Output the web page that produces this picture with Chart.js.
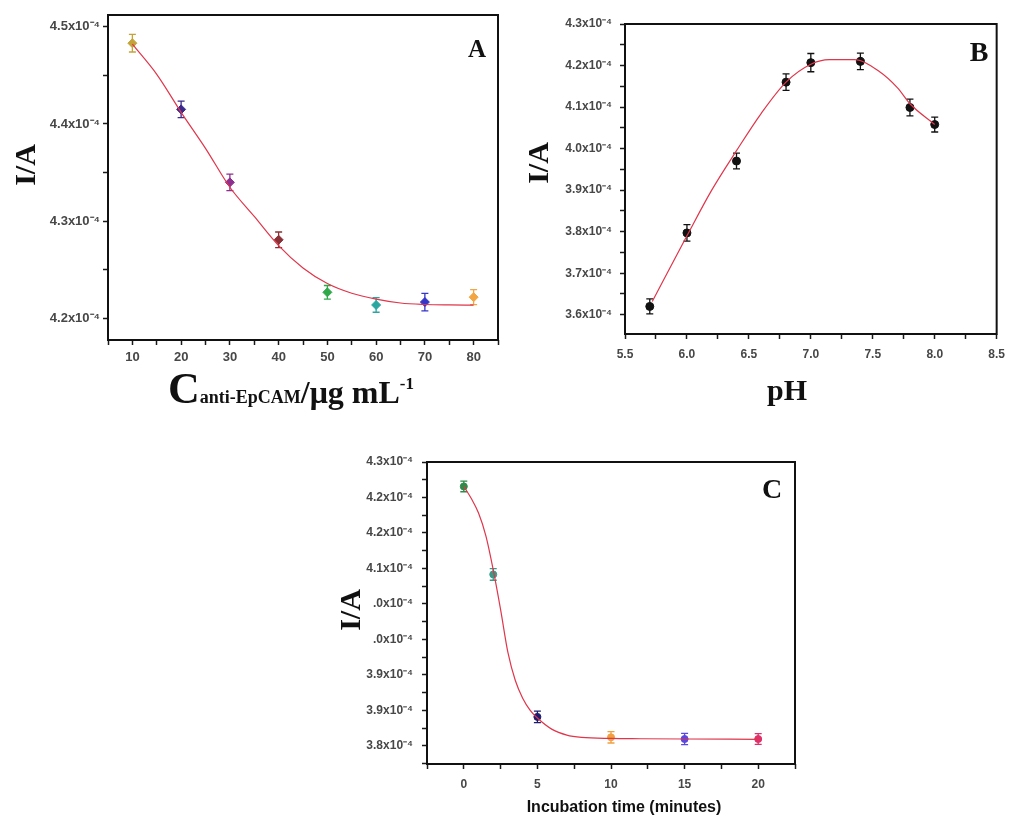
<!DOCTYPE html>
<html>
<head>
<meta charset="utf-8">
<script src="https://cdn.jsdelivr.net/npm/chart.js@4.4.1/dist/chart.umd.min.js"></script>
<style>
  html, body { margin: 0; padding: 0; background: #fff; }
  body { width: 1013px; height: 816px; position: relative; overflow: hidden; }
  canvas { position: absolute; }
</style>
</head>
<body>
<canvas id="chartA" width="510" height="420" style="left:0;top:0"></canvas>
<canvas id="chartB" width="503" height="420" style="left:510px;top:0"></canvas>
<canvas id="chartC" width="480" height="376" style="left:330px;top:440px"></canvas>
<script>
// all currents are in units of 1e-4 A

// A: current vs anti-EpCAM concentration
const concA = [10, 20, 30, 40, 50, 60, 70, 80];
const currentA = [4.483, 4.415, 4.340, 4.281, 4.227, 4.214, 4.217, 4.222];
const errA = [0.009, 0.0085, 0.0085, 0.008, 0.007, 0.0075, 0.009, 0.0077];
const colorsA = ['#c4a43a', '#3b2a8c', '#8e2e8e', '#8a2f35', '#2fa84a', '#2aa6a0', '#3535c8', '#f2a541'];
const fitConcA = [10, 15, 20, 25, 30, 35, 40, 45, 50, 55, 60, 65, 70, 75, 80];
const fitCurrentA = [4.482, 4.451, 4.412, 4.375, 4.335, 4.305, 4.275, 4.252, 4.236, 4.226, 4.220, 4.216, 4.2145, 4.214, 4.2138];
const xTicksA = [10, 20, 30, 40, 50, 60, 70, 80];
const xLabelsA = ['10', '20', '30', '40', '50', '60', '70', '80'];
const yTicksA = [4.2, 4.3, 4.4, 4.5];
const yLabelsA = ['4.2x10⁻⁴', '4.3x10⁻⁴', '4.4x10⁻⁴', '4.5x10⁻⁴'];

// B: current vs pH
const phB = [5.7, 6.0, 6.4, 6.8, 7.0, 7.4, 7.8, 8.0];
const currentB = [3.620, 3.797, 3.970, 4.160, 4.207, 4.210, 4.099, 4.058];
const errB = [0.018, 0.02, 0.019, 0.02, 0.022, 0.02, 0.02, 0.018];
const fitPhB = [5.72, 6.0, 6.2, 6.4, 6.6, 6.8, 7.0, 7.15, 7.35, 7.55, 7.7, 7.8, 8.0];
const fitCurrentB = [3.632, 3.79, 3.90, 3.995, 4.085, 4.16, 4.203, 4.214, 4.214, 4.186, 4.146, 4.108, 4.058];
const xTicksB = [5.5, 6.0, 6.5, 7.0, 7.5, 8.0, 8.5];
const xLabelsB = ['5.5', '6.0', '6.5', '7.0', '7.5', '8.0', '8.5'];
const yTicksB = [3.6, 3.7, 3.8, 3.9, 4.0, 4.1, 4.2, 4.3];
const yLabelsB = ['3.6x10⁻⁴', '3.7x10⁻⁴', '3.8x10⁻⁴', '3.9x10⁻⁴', '4.0x10⁻⁴', '4.1x10⁻⁴', '4.2x10⁻⁴', '4.3x10⁻⁴'];

// C: current vs incubation time
const timeC = [0, 2, 5, 10, 15, 20];
const currentC = [4.257, 4.102, 3.851, 3.815, 3.812, 3.812];
const errC = [0.0094, 0.0103, 0.01, 0.01, 0.01, 0.0095];
const colorsC = ['#2e8b4a', '#3a9a88', '#1c1c6e', '#f0a040', '#5a48e0', '#e0306a'];
const fitTimeC = [0, 0.5, 1, 1.5, 2, 2.5, 3, 3.5, 4, 4.5, 5, 6, 7, 8, 10, 12, 15, 20];
const fitCurrentC = [4.257, 4.236, 4.210, 4.170, 4.110, 4.040, 3.964, 3.915, 3.884, 3.863, 3.849, 3.829, 3.819, 3.815, 3.813, 3.8125, 3.812, 3.8115];
const xTicksC = [0, 5, 10, 15, 20];
const xLabelsC = ['0', '5', '10', '15', '20'];
const yTicksC = [3.8, 3.8625, 3.925, 3.9875, 4.05, 4.1125, 4.175, 4.2375, 4.3];
const yLabelsC = ['3.8x10⁻⁴', '3.9x10⁻⁴', '3.9x10⁻⁴', '.0x10⁻⁴', '.0x10⁻⁴', '4.1x10⁻⁴', '4.2x10⁻⁴', '4.2x10⁻⁴', '4.3x10⁻⁴'];

const pts = (xs, ys) => xs.map((x, i) => ({ x: x, y: ys[i] }));

// majors plus a minor tick halfway between each pair (and past the ends if in range)
function withMinor(majors, min, max) {
  const half = (majors[1] - majors[0]) / 2;
  const out = [];
  [majors[0] - half].concat(majors.flatMap(v => [v, v + half])).forEach(v => {
    if (v >= min - 1e-9 && v <= max + 1e-9) out.push(v);
  });
  return out;
}

function labeler(values, labels) {
  return v => {
    const i = values.findIndex(t => Math.abs(t - v) < 1e-6);
    return i < 0 ? '' : labels[i];
  };
}

function axis(min, max, majors, labels, size, pad, horizontal, fontSize) {
  const list = withMinor(majors, min, max);
  return {
    type: 'linear',
    min: min,
    max: max,
    afterBuildTicks: s => { s.ticks = list.map(v => ({ value: v })); },
    afterFit: s => { if (horizontal) s.height = size; else s.width = size; },
    border: { display: false },
    grid: { drawOnChartArea: false, drawTicks: true, tickLength: 5, tickWidth: 1.5, tickColor: '#1a1a1a' },
    ticks: {
      autoSkip: false, maxRotation: 0, padding: pad, color: '#474747',
      font: { family: 'Liberation Sans', size: fontSize || 12, weight: 'bold' },
      callback: labeler(majors, labels)
    }
  };
}

const framePlugin = {
  id: 'frame',
  afterDraw(chart) {
    const { left, top, right, bottom } = chart.chartArea;
    const ctx = chart.ctx;
    ctx.save();
    ctx.strokeStyle = '#111';
    ctx.lineWidth = 2;
    ctx.strokeRect(left, top, right - left, bottom - top);
    ctx.restore();
  }
};

const errorBarPlugin = {
  id: 'errorBars',
  beforeDatasetsDraw(chart, args, o) {
    const ds = chart.data.datasets[o.dataset];
    const ctx = chart.ctx;
    ctx.save();
    ctx.lineWidth = 1.3;
    ds.data.forEach((p, i) => {
      const x = chart.scales.x.getPixelForValue(p.x);
      const hi = chart.scales.y.getPixelForValue(p.y + o.errors[i]);
      const lo = chart.scales.y.getPixelForValue(p.y - o.errors[i]);
      ctx.strokeStyle = Array.isArray(o.color) ? o.color[i] : o.color;
      ctx.beginPath();
      ctx.moveTo(x, hi); ctx.lineTo(x, lo);
      ctx.moveTo(x - o.cap, hi); ctx.lineTo(x + o.cap, hi);
      ctx.moveTo(x - o.cap, lo); ctx.lineTo(x + o.cap, lo);
      ctx.stroke();
    });
    ctx.restore();
  }
};

// axis titles and panel letters, some with mixed font sizes
const textPlugin = {
  id: 'texts',
  afterDraw(chart, args, o) {
    const ctx = chart.ctx;
    o.items.forEach(item => {
      ctx.save();
      ctx.translate(item.x, item.y);
      if (item.rotate) ctx.rotate(item.rotate);
      ctx.fillStyle = item.color || '#111';
      ctx.textBaseline = item.baseline || 'alphabetic';
      ctx.textAlign = 'left';
      let total = 0;
      item.parts.forEach(p => { ctx.font = p.font; total += ctx.measureText(p.text).width; });
      let cx = -total / 2;
      item.parts.forEach(p => {
        ctx.font = p.font;
        ctx.fillText(p.text, cx, p.dy || 0);
        cx += ctx.measureText(p.text).width;
      });
      ctx.restore();
    });
  }
};

const serif = (px) => 'bold ' + px + 'px "Liberation Serif"';
const yTitle = (x, y) => ({ x: x, y: y, rotate: -Math.PI / 2, baseline: 'middle', parts: [{ text: 'I/A', font: serif(30) }] });

function makeChart(id, cfg) {
  return new Chart(document.getElementById(id), {
    type: 'scatter',
    data: {
      datasets: [
        {
          data: cfg.fit, showLine: true, borderColor: '#e0354a', borderWidth: 1.2,
          pointRadius: 0, cubicInterpolationMode: 'monotone'
        },
        {
          data: cfg.points, showLine: false, pointStyle: cfg.style, pointRadius: cfg.radius,
          backgroundColor: cfg.colors, borderColor: cfg.colors, borderWidth: 1
        }
      ]
    },
    options: {
      responsive: false,
      animation: false,
      devicePixelRatio: 1,
      layout: { padding: cfg.padding },
      plugins: {
        legend: { display: false },
        tooltip: { enabled: false },
        errorBars: { dataset: 1, errors: cfg.errors, color: cfg.colors, cap: 3.5 },
        texts: { items: cfg.texts }
      },
      scales: { x: cfg.x, y: cfg.y }
    },
    plugins: [errorBarPlugin, framePlugin, textPlugin]
  });
}

makeChart('chartA', {
  fit: pts(fitConcA, fitCurrentA),
  points: pts(concA, currentA),
  errors: errA,
  colors: colorsA,
  style: 'rectRot', radius: 4.5,
  padding: { top: 15, right: 12, left: 0, bottom: 0 },
  x: axis(5, 85, xTicksA, xLabelsA, 80, 5, true, 13),
  y: axis(4.178, 4.512, yTicksA, yLabelsA, 108, 3, false, 13),
  texts: [
    yTitle(27, 165),
    { x: 291, y: 403, parts: [
      { text: 'C', font: serif(44) },
      { text: 'anti-EpCAM', font: serif(18) },
      { text: '/μg mL', font: serif(32) },
      { text: '-1', font: serif(17), dy: -14 }
    ] },
    { x: 477, y: 57, parts: [{ text: 'A', font: serif(25) }] }
  ]
});

makeChart('chartB', {
  fit: pts(fitPhB, fitCurrentB),
  points: pts(phB, currentB),
  errors: errB,
  colors: '#111',
  style: 'circle', radius: 4,
  padding: { top: 24, right: 11, left: 0, bottom: 0 },
  x: axis(5.5, 8.5, xTicksB, xLabelsB, 86, 8, true),
  y: axis(3.5536, 4.3, yTicksB, yLabelsB, 115, 8, false),
  texts: [
    yTitle(30, 163),
    { x: 277, y: 400, parts: [{ text: 'pH', font: serif(30) }] },
    { x: 469, y: 61, parts: [{ text: 'B', font: serif(28) }] }
  ]
});

makeChart('chartC', {
  fit: pts(fitTimeC, fitCurrentC),
  points: pts(timeC, currentC),
  errors: errC,
  colors: colorsC,
  style: 'circle', radius: 3.5,
  padding: { top: 22, right: 15, left: 0, bottom: 0 },
  x: axis(-2.5, 22.5, xTicksC, xLabelsC, 52, 8, true),
  y: axis(3.768, 4.3, yTicksC, yLabelsC, 97, 9, false),
  texts: [
    yTitle(22, 170),
    { x: 294, y: 372, parts: [{ text: 'Incubation time (minutes)', font: 'bold 16px "Liberation Sans"' }] },
    { x: 442, y: 58, parts: [{ text: 'C', font: serif(28) }] }
  ]
});
</script>
</body>
</html>
